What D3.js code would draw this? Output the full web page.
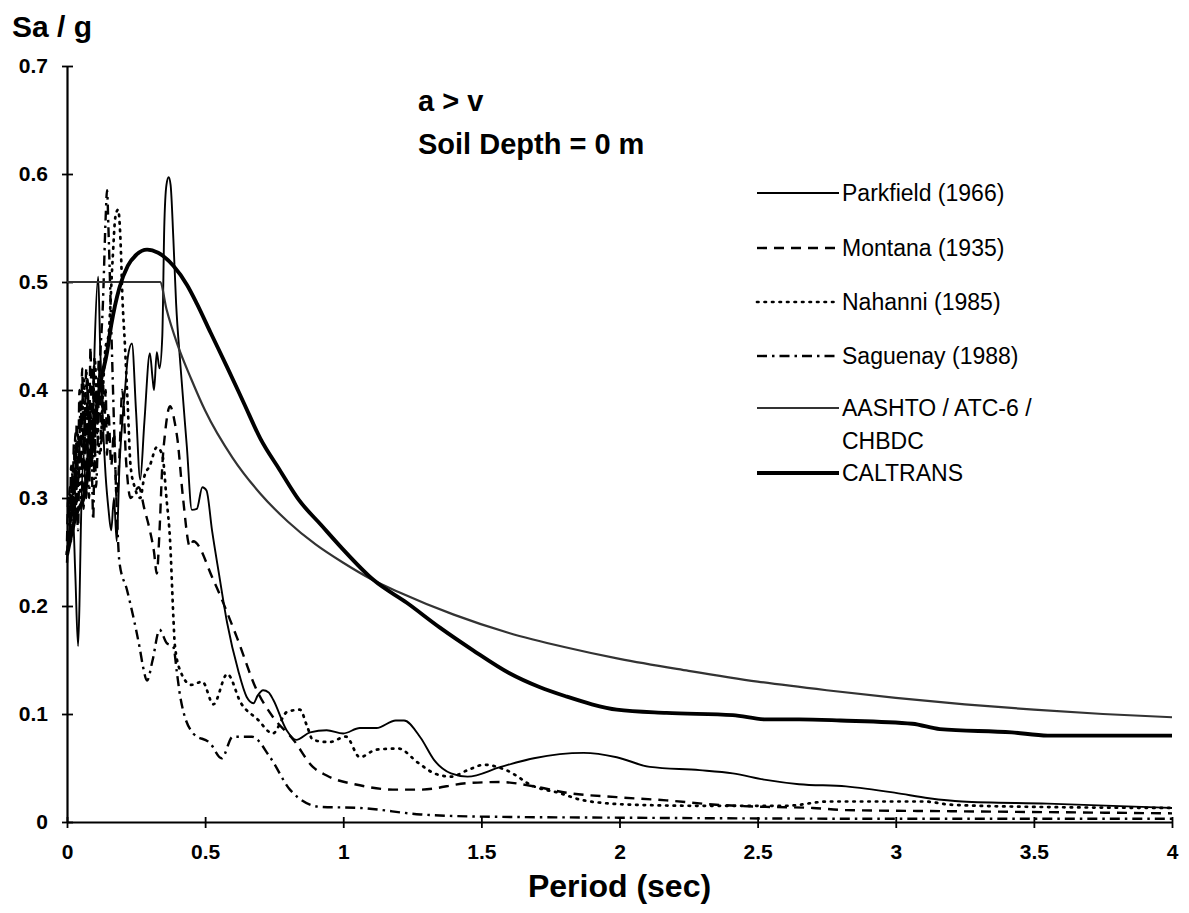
<!DOCTYPE html>
<html><head><meta charset="utf-8">
<script src="https://cdn.jsdelivr.net/npm/d3@7"></script>
<style>
html,body{margin:0;padding:0;background:#fff;}
svg{display:block;font-family:"Liberation Sans",Arial,Helvetica,sans-serif;}
</style></head>
<body><svg id="c" width="1189" height="913"></svg>
<script>
// ---- data ----
const xTicks = [0, 0.5, 1, 1.5, 2, 2.5, 3, 3.5, 4];
const xTickLabels = ["0", "0.5", "1", "1.5", "2", "2.5", "3", "3.5", "4"];
const yTicks = [0, 0.1, 0.2, 0.3, 0.4, 0.5, 0.6, 0.7];
const yTickLabels = ["0", "0.1", "0.2", "0.3", "0.4", "0.5", "0.6", "0.7"];

const seriesNames = ["Parkfield (1966)", "Montana (1935)", "Nahanni (1985)", "Saguenay (1988)", "AASHTO / ATC-6 /|CHBDC", "CALTRANS"];

const parkfieldT  = [0,0.01,0.02,0.03,0.04,0.045,0.05,0.06,0.07,0.08,0.09,0.1,0.113,0.12,0.13,0.14,0.15,0.16,0.17,0.18,0.19,0.2,0.21,0.22,0.235,0.25,0.265,0.28,0.3,0.31,0.315,0.325,0.335,0.345,0.352,0.36,0.368,0.375,0.385,0.395,0.41,0.434,0.452,0.47,0.49,0.505,0.525,0.55,0.58,0.62,0.65,0.675,0.69,0.71,0.73,0.747,0.795,0.83,0.88,0.94,1.0,1.06,1.12,1.19,1.22,1.28,1.33,1.39,1.45,1.57,1.69,1.87,1.99,2.11,2.29,2.41,2.53,2.65,2.82,3.0,3.12,3.24,3.55,4.0];
const parkfieldSa = [0.25,0.27,0.29,0.23,0.163,0.2,0.27,0.34,0.3,0.38,0.33,0.44,0.505,0.44,0.37,0.32,0.29,0.27,0.3,0.26,0.33,0.37,0.4,0.43,0.443,0.38,0.317,0.37,0.434,0.41,0.4,0.435,0.42,0.45,0.55,0.59,0.597,0.59,0.54,0.48,0.425,0.347,0.289,0.29,0.31,0.307,0.27,0.23,0.184,0.14,0.116,0.11,0.117,0.122,0.12,0.113,0.085,0.076,0.083,0.085,0.082,0.087,0.087,0.094,0.094,0.078,0.057,0.045,0.042,0.051,0.059,0.064,0.06,0.051,0.048,0.045,0.039,0.035,0.033,0.027,0.022,0.019,0.017,0.013];

const montanaT  = [0,0.005,0.01,0.015,0.02,0.025,0.03,0.035,0.04,0.045,0.05,0.055,0.06,0.065,0.07,0.075,0.08,0.085,0.09,0.095,0.1,0.105,0.11,0.115,0.12,0.125,0.13,0.135,0.14,0.145,0.15,0.16,0.17,0.18,0.19,0.2,0.215,0.23,0.26,0.28,0.3,0.315,0.325,0.335,0.345,0.355,0.373,0.39,0.4,0.42,0.445,0.457,0.53,0.615,0.687,0.746,0.82,0.89,0.94,1.06,1.18,1.28,1.45,1.57,1.69,1.81,1.99,2.17,2.35,2.53,2.7,2.82,3.2,3.6,4.0];
const montanaSa = [0.26,0.3,0.27,0.33,0.29,0.35,0.28,0.37,0.31,0.4,0.33,0.42,0.34,0.38,0.3,0.41,0.35,0.44,0.36,0.42,0.33,0.4,0.36,0.43,0.38,0.35,0.41,0.36,0.4,0.34,0.38,0.33,0.36,0.3,0.34,0.4,0.33,0.3,0.31,0.29,0.27,0.25,0.23,0.27,0.33,0.36,0.385,0.37,0.354,0.3,0.255,0.26,0.224,0.171,0.122,0.097,0.076,0.051,0.043,0.034,0.03,0.03,0.036,0.037,0.033,0.027,0.023,0.02,0.016,0.014,0.013,0.011,0.01,0.009,0.008];

const nahanniT  = [0,0.01,0.02,0.03,0.04,0.05,0.06,0.07,0.08,0.09,0.1,0.11,0.12,0.13,0.14,0.15,0.165,0.175,0.185,0.195,0.2,0.21,0.22,0.23,0.245,0.265,0.28,0.3,0.325,0.345,0.36,0.373,0.385,0.39,0.41,0.45,0.49,0.53,0.58,0.63,0.69,0.745,0.797,0.843,0.87,0.89,0.95,1.01,1.06,1.12,1.2,1.27,1.33,1.39,1.45,1.51,1.59,1.69,1.78,1.87,2.05,2.29,2.6,2.76,3.1,3.2,3.5,4.0];
const nahanniSa = [0.25,0.27,0.32,0.28,0.36,0.3,0.41,0.35,0.39,0.33,0.43,0.37,0.34,0.4,0.44,0.45,0.52,0.56,0.567,0.53,0.49,0.44,0.385,0.33,0.31,0.3,0.32,0.33,0.347,0.34,0.3,0.261,0.19,0.165,0.14,0.127,0.13,0.109,0.137,0.11,0.095,0.082,0.102,0.104,0.088,0.076,0.074,0.079,0.06,0.067,0.068,0.055,0.045,0.042,0.048,0.053,0.048,0.033,0.027,0.02,0.016,0.015,0.015,0.019,0.019,0.016,0.014,0.013];

const saguenayT  = [0,0.005,0.01,0.015,0.02,0.025,0.03,0.035,0.04,0.045,0.05,0.055,0.06,0.065,0.07,0.075,0.08,0.085,0.09,0.095,0.1,0.105,0.11,0.115,0.12,0.13,0.14,0.145,0.15,0.16,0.17,0.18,0.19,0.217,0.24,0.264,0.275,0.29,0.31,0.335,0.36,0.385,0.398,0.41,0.457,0.518,0.56,0.6,0.67,0.735,0.807,0.916,1.06,1.28,1.5,2.0,3.0,4.0];
const saguenaySa = [0.24,0.27,0.31,0.26,0.33,0.28,0.36,0.3,0.27,0.35,0.39,0.32,0.29,0.37,0.42,0.34,0.3,0.38,0.33,0.28,0.36,0.31,0.34,0.4,0.43,0.48,0.56,0.585,0.55,0.46,0.37,0.29,0.24,0.215,0.19,0.16,0.144,0.131,0.15,0.178,0.166,0.162,0.138,0.116,0.082,0.073,0.059,0.079,0.079,0.06,0.03,0.014,0.013,0.007,0.005,0.004,0.003,0.003];

const aashtoT  = [0,0.337,0.36,0.4,0.45,0.5,0.6,0.7,0.8,0.9,1.0,1.1,1.2,1.4,1.6,1.8,2.0,2.25,2.5,2.75,3.0,3.25,3.5,3.75,4.0];
const aashtoSa = [0.5,0.5,0.475,0.442,0.41,0.381,0.337,0.304,0.278,0.257,0.24,0.225,0.213,0.192,0.175,0.162,0.151,0.14,0.13,0.122,0.115,0.109,0.104,0.1,0.097];

const caltransT  = [0,0.035,0.06,0.08,0.1,0.12,0.145,0.16,0.19,0.22,0.25,0.29,0.33,0.385,0.435,0.47,0.52,0.58,0.64,0.7,0.77,0.84,0.92,0.99,1.11,1.23,1.35,1.47,1.6,1.71,1.81,1.9,1.99,2.17,2.41,2.53,2.65,2.8,3.06,3.16,3.42,3.55,4.0];
const caltransSa = [0.247,0.286,0.3,0.33,0.37,0.405,0.435,0.46,0.495,0.515,0.525,0.53,0.527,0.515,0.497,0.48,0.453,0.421,0.388,0.355,0.326,0.298,0.275,0.255,0.224,0.203,0.18,0.159,0.138,0.125,0.116,0.109,0.104,0.101,0.099,0.095,0.095,0.094,0.091,0.086,0.083,0.08,0.08];

// ---- layout ----
const svg = d3.select("#c");
const x = d3.scaleLinear().domain([0, 4]).range([67, 1172]);
const y = d3.scaleLinear().domain([0, 0.7]).range([822, 66]);

const styles = [
  {w:1.9, dash:null},
  {w:2.4, dash:"10,7"},
  {w:2.7, dash:"1.5,6", cap:"round"},
  {w:2.4, dash:"10,5,2.5,5"},
  {w:2.2, dash:null, color:"#333"},
  {w:3.9, dash:null}
];
const data = [
  [parkfieldT, parkfieldSa],
  [montanaT, montanaSa],
  [nahanniT, nahanniSa],
  [saguenayT, saguenaySa],
  [aashtoT, aashtoSa],
  [caltransT, caltransSa]
];

const fam = "'Liberation Sans',Arial,sans-serif";
// axes
const xAxis = d3.axisBottom(x).tickValues(xTicks).tickFormat((d,i)=>xTickLabels[i]).tickSize(0).tickPadding(22);
const gx = svg.append("g").attr("transform", `translate(0,${y(0)})`).call(xAxis);
gx.select(".domain").attr("stroke","#000").attr("stroke-width",2.2);
gx.selectAll(".tick text").attr("font-size",21).attr("font-weight","bold").attr("fill","#000").attr("font-family",fam);
gx.selectAll(".tick").append("line").attr("y1",-5).attr("y2",6).attr("stroke","#000").attr("stroke-width",1.8);

const yAxis = d3.axisLeft(y).tickValues(yTicks).tickFormat((d,i)=>yTickLabels[i]).tickSize(0).tickPadding(19);
const gy = svg.append("g").attr("transform", `translate(${x(0)},0)`).call(yAxis);
gy.select(".domain").attr("stroke","#000").attr("stroke-width",2.2);
gy.selectAll(".tick text").attr("font-size",21).attr("font-weight","bold").attr("fill","#000").attr("font-family",fam);
gy.selectAll(".tick").append("line").attr("x1",-5).attr("x2",6).attr("stroke","#000").attr("stroke-width",1.8);

// series
const line = d3.line().x(d=>x(d[0])).y(d=>y(d[1])).curve(d3.curveMonotoneX);
data.forEach((s,i)=>{
  const pts = s[0].map((t,j)=>[t, s[1][j]]);
  const st = styles[i];
  svg.append("path").datum(pts).attr("d", line)
    .attr("fill","none").attr("stroke", st.color || "#000")
    .attr("stroke-width", st.w)
    .attr("stroke-dasharray", st.dash)
    .attr("stroke-linecap", st.cap || "butt")
    .attr("stroke-linejoin","round");
});

// titles
svg.append("text").attr("x",12).attr("y",37).attr("font-size",30).attr("font-weight","bold").text("Sa / g");
svg.append("text").attr("x",x(2)).attr("y",897).attr("text-anchor","middle").attr("font-size",32).attr("font-weight","bold").text("Period (sec)");
svg.append("text").attr("x",418).attr("y",111).attr("font-size",29).attr("font-weight","bold").text("a > v");
svg.append("text").attr("x",418).attr("y",154).attr("font-size",29).attr("font-weight","bold").text("Soil Depth = 0 m");

// legend
const legY = [193, 248, 302, 356, 408, 473];
const lg = svg.append("g");
seriesNames.forEach((name,i)=>{
  const st = styles[i];
  lg.append("line").attr("x1",757).attr("x2",839).attr("y1",legY[i]).attr("y2",legY[i])
    .attr("stroke", st.color || "#000").attr("stroke-width", st.w)
    .attr("stroke-dasharray", st.dash).attr("stroke-linecap", st.cap || "butt");
  const parts = name.split("|");
  parts.forEach((p,k)=>{
    lg.append("text").attr("x",842).attr("y",legY[i]+8 + k*33).attr("font-size",23).text(p);
  });
});
</script></body></html>
